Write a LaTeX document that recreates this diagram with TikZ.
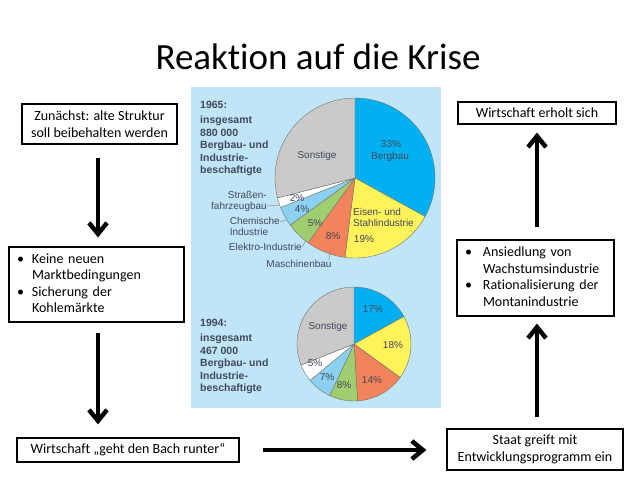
\documentclass[tikz,border=0pt]{standalone}
\usepackage{fontspec}
\setmainfont{Carlito}[Ligatures=NoCommon,Contextuals=NoAlternate]
\newfontfamily\chartfont{Liberation Sans}
\usetikzlibrary{arrows.meta}
\definecolor{panelblue}{RGB}{192,229,247}
\definecolor{sliceblue}{RGB}{0,176,240}
\definecolor{sliceyellow}{RGB}{255,242,90}
\definecolor{sliceorange}{RGB}{242,132,92}
\definecolor{slicegreen}{RGB}{160,205,112}
\definecolor{slicelight}{RGB}{140,208,242}
\definecolor{slicegray}{RGB}{202,202,202}
\definecolor{charttext}{RGB}{66,72,94}

\begin{document}
\begin{tikzpicture}[x=1pt,y=1pt,
  box/.style={draw,line width=1.2pt,inner sep=0pt,align=center,
    font=\fontsize{14}{16.5}\selectfont},
  listbox/.style={box,align=left,inner xsep=8pt,inner ysep=3pt},
  arr/.style={line width=4.5pt,-{Straight Barb[length=11pt,width=18pt]}},
  slice/.style={draw=black!55,line width=0.4pt},
  pct/.style={font=\chartfont\fontsize{10}{11}\selectfont,text=charttext,inner sep=0pt},
  legend/.style={pct,align=left},
  lead/.style={draw=black!45,line width=0.5pt}]
  \useasboundingbox[fill=white] (0,0) rectangle (638,-479);

  % title
  \node[font=\fontsize{37}{40}\selectfont,anchor=base] (title) at (318,-69) {Reaktion auf die Krise};

  % chart panel
  \fill[panelblue] (191,-87) rectangle (441,-408);
  \coordinate (pieA) at (355,-178);
  \coordinate (pieB) at (354,-344);

  % 1965
  \foreach \s/\e/\c in {90/-28.8/sliceblue,-28.8/-97.2/sliceyellow,-97.2/-126/sliceorange,
      -126/-144/slicegreen,-144/-158.4/slicelight,-158.4/-165.6/white,-165.6/-270/slicegray}
    \filldraw[slice,fill=\c] (pieA) -- ++(\s:80) arc[start angle=\s,end angle=\e,radius=80] -- cycle;
  % 1994
  \foreach \s/\e/\c in {90/28.8/sliceblue,28.8/-36/sliceyellow,-36/-86.4/sliceorange,
      -86.4/-115.2/slicegreen,-115.2/-140.4/slicelight,-140.4/-158.4/white,-158.4/-270/slicegray}
    \filldraw[slice,fill=\c] (pieB) -- ++(\s:57) arc[start angle=\s,end angle=\e,radius=57] -- cycle;

  \node[pct,font=\chartfont\bfseries\fontsize{10.5}{11}\selectfont,anchor=west] (yearA) at (200,-105) {1965:};
  \node[legend,font=\chartfont\bfseries\fontsize{10.5}{12.5}\selectfont,anchor=north west] (sumA) at (200,-116)
    {insgesamt\\880 000\\Bergbau- und\\Industrie-\\beschaftigte};
  \node[pct,font=\chartfont\bfseries\fontsize{10.5}{11}\selectfont,anchor=west] (yearB) at (200,-323) {1994:};
  \node[legend,font=\chartfont\bfseries\fontsize{10.5}{12.5}\selectfont,anchor=north west] (sumB) at (200,-334)
    {insgesamt\\467 000\\Bergbau- und\\Industrie-\\beschaftigte};

  % slice labels 1965
  \node[pct] (sonstA) at (317,-156) {Sonstige};
  \node[pct] (bergA) at (391,-144) {33\%};
  \node[pct] (bergAt) at (390,-157) {Bergbau};
  \node[legend,anchor=north west] (eisenA) at (353,-208) {Eisen- und\\Stahlindustrie};
  \node[pct] (eisenAp) at (364,-239) {19\%};
  \node[pct] (maschAp) at (333,-236) {8\%};
  \node[pct] (elekAp) at (315,-223) {5\%};
  \node[pct] (chemAp) at (302,-209) {4\%};
  \node[pct] (strAp) at (297,-198) {2\%};
  \node[legend,align=right,anchor=east] (strA) at (267,-201) {Straßen-\\fahrzeugbau};
  \node[legend,anchor=east] (chemA) at (280,-226) {Chemische\\Industrie};
  \node[pct,anchor=east] (elekA) at (302,-247) {Elektro-Industrie};
  \node[pct] (maschA) at (299,-264) {Maschinenbau};
  \draw[lead] (strA.east) ++(0,-5) -- (280,-205);
  \draw[lead] (chemA.east) ++(0,4) -- (286,-220);
  \draw[lead] (elekA.east) -- (306,-240);
  \draw[lead] (maschA.north east) ++(-3,0) -- (331,-249);

  % slice labels 1994
  \node[pct] (sonstB) at (328,-327) {Sonstige};
  \node[pct] (bergB) at (373,-309) {17\%};
  \node[pct] (eisenB) at (393,-345) {18\%};
  \node[pct] (maschB) at (372,-380) {14\%};
  \node[pct] (elekB) at (344,-385) {8\%};
  \node[pct] (chemB) at (327,-377) {7\%};
  \node[pct] (strB) at (315,-363) {5\%};

  % flow boxes
  \node[box,minimum width=155,minimum height=40] (alt) at (99.5,-124)
    {Zunächst: alte Struktur\\soll beibehalten werden};
  \node[listbox,text width=159,minimum height=75] (keine) at (96.5,-284.5)
    {\begin{tabular}{@{}p{15pt}@{}l@{}}
       • & Keine neuen\\ & Marktbedingungen\\
       • & Sicherung der\\ & Kohlemärkte
     \end{tabular}};
  \node[box,minimum width=222,minimum height=24] (bach) at (128,-450)
    {Wirtschaft „geht den Bach runter“};
  \node[box,minimum width=176,minimum height=41] (staat) at (535,-449.5)
    {Staat greift mit\\Entwicklungsprogramm ein};
  \node[listbox,text width=141,minimum height=76] (ansied) at (535.5,-278)
    {\begin{tabular}{@{}p{18pt}@{}l@{}}
       • & Ansiedlung von\\ & Wachstumsindustrie\\
       • & Rationalisierung der\\ & Montanindustrie
     \end{tabular}};
  \node[box,minimum width=158,minimum height=22] (erholt) at (537,-113)
    {Wirtschaft erholt sich};

  % arrows
  \draw[arr,shorten <=13pt,shorten >=9pt] (alt.south -| 98,0) -- (keine.north -| 98,0);
  \draw[arr,shorten <=10pt,shorten >=13pt] (keine.south -| 98,0) -- (bach.north -| 98,0);
  \draw[arr,shorten <=23pt,shorten >=20pt] (bach.east) -- (staat.west |- bach.east);
  \draw[arr,shorten <=11pt,shorten >=7pt] (staat.north -| 537,0) -- (ansied.south -| 537,0);
  \draw[arr,shorten <=12pt,shorten >=8pt] (ansied.north -| 537,0) -- (erholt.south -| 537,0);
\end{tikzpicture}
\end{document}
